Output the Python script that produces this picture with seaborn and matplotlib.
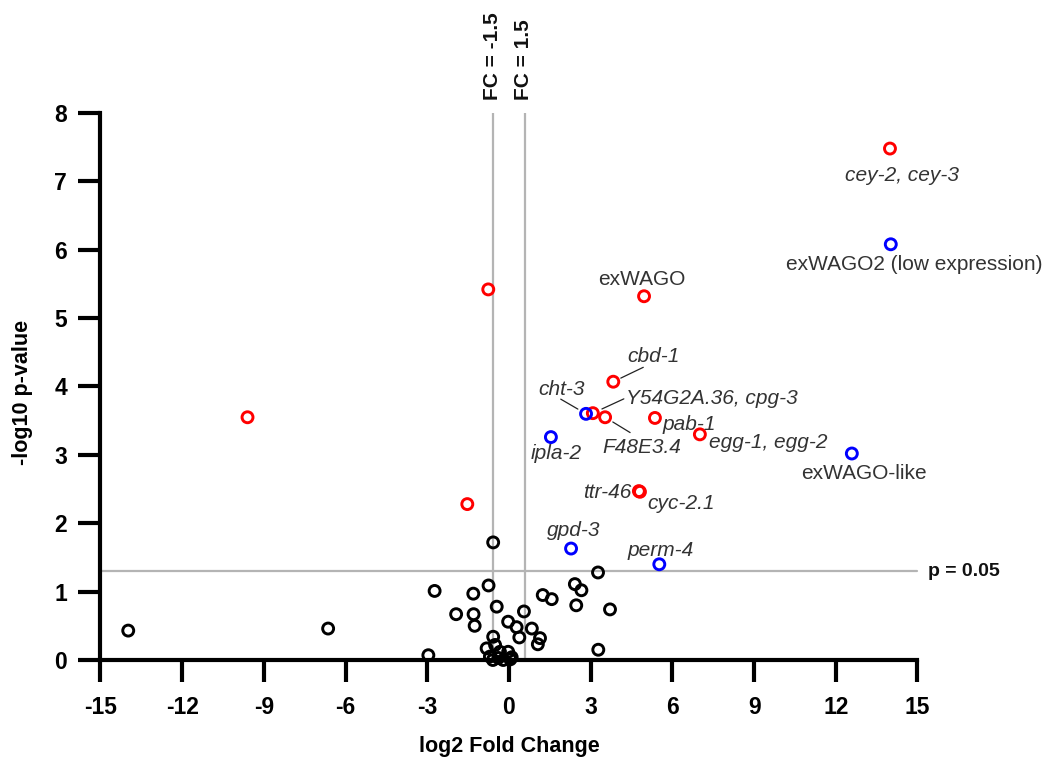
import numpy as np
import pandas as pd
import matplotlib
matplotlib.use("Agg")
import matplotlib.pyplot as plt
import seaborn as sns

# ---- data -------------------------------------------------------------
# not significant
ns_lfc = [-0.58, 3.27, -2.73, -1.31, -0.75, 2.42, 2.66, 1.24, 1.57, 2.47,
          3.71, -1.94, -1.30, -0.45, 0.55, -1.26, -0.03, 0.28, 0.84, 0.38,
          1.14, 1.06, -0.58, 3.28, -2.96, -13.98, -6.64,
          -0.82, -0.51, -0.33, -0.03, -0.70, -0.39, 0.10, -0.21, -0.59, 0.05]
ns_p = [1.72, 1.28, 1.01, 0.97, 1.09, 1.11, 1.02, 0.95, 0.89, 0.80,
        0.74, 0.67, 0.67, 0.78, 0.71, 0.50, 0.56, 0.48, 0.46, 0.33,
        0.32, 0.23, 0.34, 0.15, 0.07, 0.43, 0.46,
        0.17, 0.22, 0.12, 0.12, 0.05, 0.03, 0.04, 0.00, 0.00, 0.01]

# significant (red)
red_genes = ["cey-2, cey-3", "exWAGO", "", "", "", "cbd-1",
             "Y54G2A.36, cpg-3", "F48E3.4", "pab-1", "egg-1, egg-2",
             "ttr-46", "cyc-2.1"]
red_lfc = [13.99, 4.96, -0.76, -9.60, -1.53, 3.83, 3.08, 3.53, 5.36, 7.01,
           4.77, 4.81]
red_p = [7.48, 5.32, 5.42, 3.55, 2.28, 4.07, 3.61, 3.55, 3.54, 3.30,
         2.47, 2.46]

# significant (blue)
blue_genes = ["exWAGO2 (low expression)", "cht-3", "ipla-2", "exWAGO-like",
              "gpd-3", "perm-4"]
blue_lfc = [14.02, 2.83, 1.54, 12.59, 2.28, 5.52]
blue_p = [6.08, 3.60, 3.26, 3.02, 1.63, 1.40]

x_ticks = [-15, -12, -9, -6, -3, 0, 3, 6, 9, 12, 15]
y_ticks = [0, 1, 2, 3, 4, 5, 6, 7, 8]
fc_cut = 1.5
p_cut = 0.05

# ---- label placement (pixel offsets from the point) ---------------------
label_style = {
    "cey-2, cey-3": ((12, -27), "center", True),
    "exWAGO": ((-2, 17), "center", False),
    "cbd-1": ((40, 25), "center", True),
    "Y54G2A.36, cpg-3": ((33, 15), "left", True),
    "F48E3.4": ((37, -30), "center", True),
    "pab-1": ((34, -7), "center", True),
    "egg-1, egg-2": ((68, -8), "center", True),
    "ttr-46": ((-32, -1), "center", True),
    "cyc-2.1": ((41, -12), "center", True),
    "exWAGO2 (low expression)": ((23, -20), "center", False),
    "cht-3": ((-24, 24), "center", True),
    "ipla-2": ((5, -16), "center", True),
    "exWAGO-like": ((12, -20), "center", False),
    "gpd-3": ((3, 18), "center", True),
    "perm-4": ((1, 14), "center", True),
}
# leader lines: far end offset (pixels) and gap at the marker (points)
leaders = {
    "cbd-1": ((30, 14.4), 6.0),
    "Y54G2A.36, cpg-3": ((31, 14.3), 7.2),
    "cht-3": ((-25.3, 14.7), 6.8),
    "F48E3.4": ((25, -15.3), 6.5),
}

# ---- figure -------------------------------------------------------------
sns.set_theme(style="ticks")
plt.rcParams["font.family"] = ["Liberation Sans", "DejaVu Sans"]

fig = plt.figure(figsize=(10.53, 7.64), dpi=100)
ax = fig.add_axes([0.0954, 0.13613, 0.7759, 0.71597])

grey = "#b4b4b4"
ax.axvline(-np.log2(fc_cut), color=grey, lw=1.6, zorder=1)
ax.axvline(np.log2(fc_cut), color=grey, lw=1.6, zorder=1)
ax.axhline(-np.log10(p_cut), color=grey, lw=1.6, zorder=1, clip_on=False)

groups = [
    (ns_lfc, ns_p, "black"),
    (red_lfc, red_p, "#ff0000"),
    (blue_lfc, blue_p, "#0000ff"),
]
for lfc, p, col in groups:
    df = pd.DataFrame({"lfc": lfc, "p": p})
    sns.scatterplot(data=df, x="lfc", y="p", ax=ax, s=62, marker="o",
                    facecolors="none", edgecolor=col, linewidth=2.1,
                    clip_on=False, zorder=3, legend=False)

# gene labels
txt_col = "#333333"
for genes, lfc, p in [(red_genes, red_lfc, red_p), (blue_genes, blue_lfc, blue_p)]:
    for g, x, y in zip(genes, lfc, p):
        if not g:
            continue
        (dx, dy), ha, ital = label_style[g]
        ax.annotate(g, xy=(x, y), xytext=(dx, dy), textcoords="offset pixels",
                    ha=ha, va="center", fontsize=15, color=txt_col,
                    style="italic" if ital else "normal", zorder=4)
        if g in leaders:
            (lx, ly), gap = leaders[g]
            ax.annotate("", xy=(x, y), xytext=(lx, ly), textcoords="offset pixels",
                        arrowprops=dict(arrowstyle="-", color="#222222", lw=0.9,
                                        shrinkA=0, shrinkB=gap), zorder=4)

# threshold labels
ax.text(1.013, -np.log10(p_cut), "p = 0.05", transform=ax.get_yaxis_transform(),
        ha="left", va="center", fontsize=14, fontweight="bold", color="#111111")
for xv, lab in [(-np.log2(fc_cut), "FC = -1.5"), (np.log2(fc_cut), "FC = 1.5")]:
    ax.annotate(lab, xy=(xv, 1), xycoords=("data", "axes fraction"),
                xytext=(-1, 13), textcoords="offset pixels", rotation=90,
                ha="center", va="bottom", fontsize=15, fontweight="bold",
                color="#111111")

# axes styling
ax.set_xlim(-15, 15)
ax.set_ylim(0, 8)
ax.set_xticks(x_ticks)
ax.set_yticks(y_ticks)
ax.set_xticklabels([str(t) for t in x_ticks])
ax.set_yticklabels([str(t) for t in y_ticks])
for side in ["top", "right"]:
    ax.spines[side].set_visible(False)
for side in ["left", "bottom"]:
    ax.spines[side].set_linewidth(3)
    ax.spines[side].set_color("black")
    ax.spines[side].set_capstyle("projecting")
ax.tick_params(axis="both", which="major", direction="out", length=16, width=3,
               color="black", labelsize=16.5, labelcolor="black",
               bottom=True, left=True, top=False, right=False)
ax.tick_params(axis="x", pad=10)
ax.tick_params(axis="y", pad=8)
for lab in ax.get_xticklabels() + ax.get_yticklabels():
    lab.set_fontweight("bold")

ax.set_xlabel("log2 Fold Change", fontsize=15.5, fontweight="bold", color="black")
ax.set_ylabel("-log10 p-value", fontsize=15.5, fontweight="bold", color="black")
ax.xaxis.set_label_coords(0.5, -0.139)
ax.yaxis.set_label_coords(-0.083, 0.49)

fig.savefig("out.png", dpi=100, facecolor="white")
